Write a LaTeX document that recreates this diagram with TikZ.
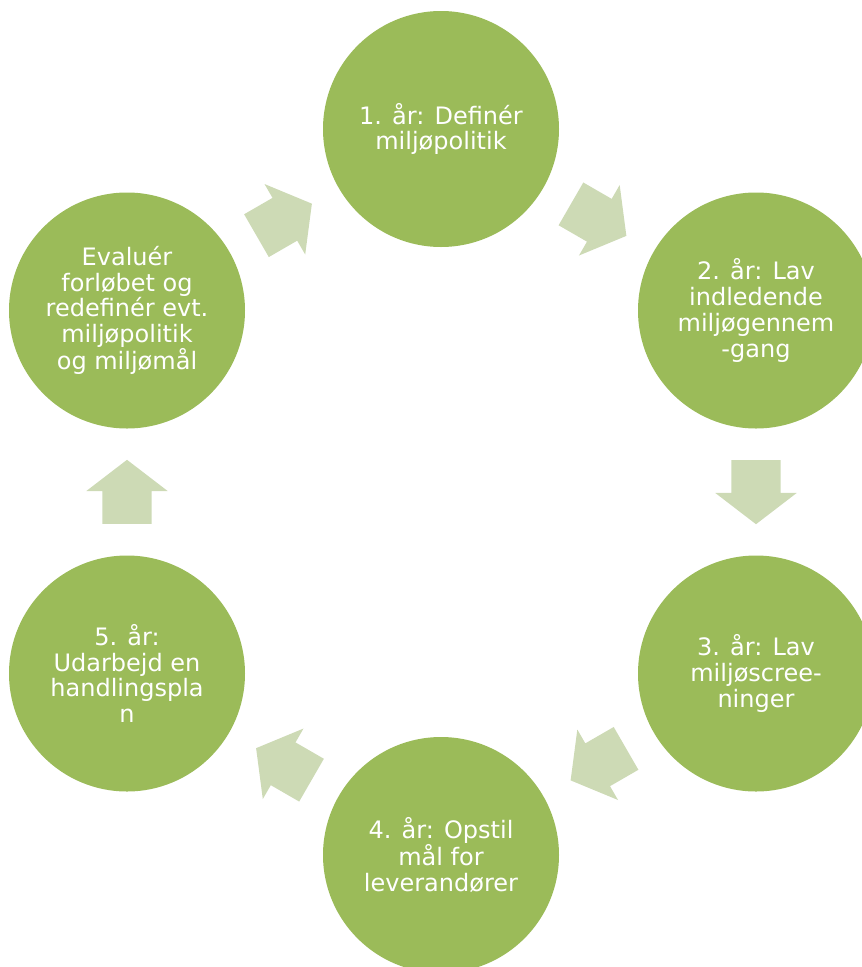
\documentclass[tikz,border=0pt]{standalone}
\usepackage{fontspec}
\setmainfont{DejaVu Sans}
\usetikzlibrary{shapes.arrows,calc}
\definecolor{stepgreen}{HTML}{9BBB59}
\definecolor{arrowgreen}{HTML}{CDDAB5}

\begin{document}
\begin{tikzpicture}[x=1pt,y=-1pt,
    year/.style={circle,fill=stepgreen,minimum size=236pt,inner sep=0pt,text=white,align=center,font=\fontsize{24}{25.7}\selectfont},
    flow/.style={single arrow,fill=arrowgreen,minimum height=64pt,single arrow head extend=16pt,single arrow tip angle=105,inner xsep=0pt,inner ysep=24.5pt,anchor=tail}]
\useasboundingbox (0,0) rectangle (862,967);
\node[year] (y1) at (441,129) {1. år: Definér\\miljøpolitik};
\node[year] (y2) at (756,310.5) {2. år: Lav\\indledende\\miljøgennem\\-gang};
\node[year] (y3) at (756,673.5) {3. år: Lav\\miljøscree-\\ninger};
\node[year] (y4) at (441,855) {4. år: Opstil\\mål for\\leverandører};
\node[year] (y5) at (127,673.5) {5. år:\\Udarbejd en\\handlingspla\\n};
\node[year] (y6) at (127,310.5) {Evaluér\\forløbet og\\redefinér evt.\\miljøpolitik\\og miljømål};

\node[flow,rotate=-30] (a12) at ($(y1)!0.5!(y2)!32pt!(y1)$) {};
\node[flow,rotate=-90] (a23) at ($(y2)!0.5!(y3)!32pt!(y2)$) {};
\node[flow,rotate=-150] (a34) at ($(y3)!0.5!(y4)!32pt!(y3)$) {};
\node[flow,rotate=150] (a45) at ($(y4)!0.5!(y5)!32pt!(y4)$) {};
\node[flow,rotate=90] (a56) at ($(y5)!0.5!(y6)!32pt!(y5)$) {};
\node[flow,rotate=30] (a61) at ($(y6)!0.5!(y1)!32pt!(y6)$) {};
\end{tikzpicture}
\end{document}
